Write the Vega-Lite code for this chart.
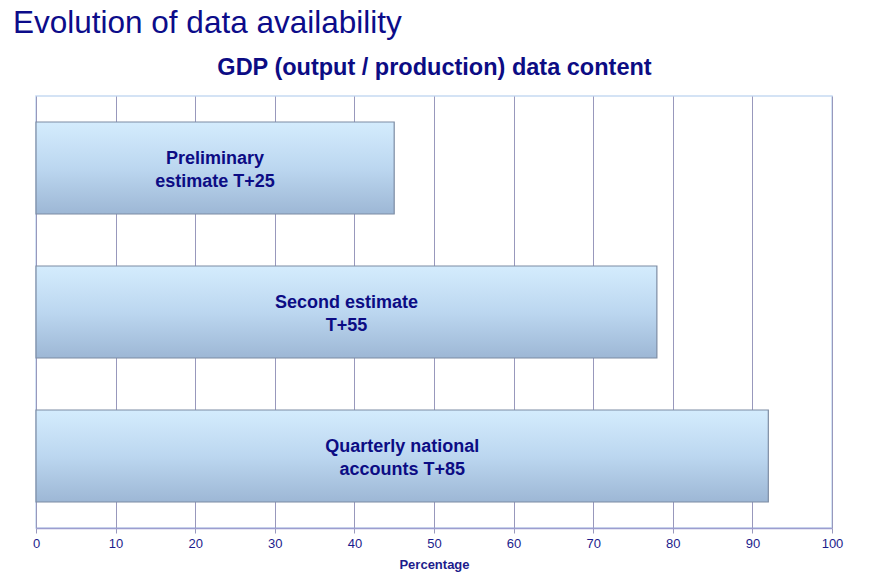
{
  "$schema": "https://vega.github.io/schema/vega-lite/v6.json",
  "width": 796,
  "height": 432,
  "autosize": "none",
  "padding": {"left": 36, "top": 96, "right": 55, "bottom": 46},
  "background": "white",
  "title": {
    "text": "Evolution of data availability",
    "anchor": "start",
    "frame": "group",
    "dx": -23,
    "offset": 16,
    "font": "Liberation Sans",
    "fontSize": 31.5,
    "fontWeight": "normal",
    "color": "#0c0c8a"
  },
  "data": {
    "values": [
      {"stage": "Preliminary estimate T+25", "label": "Preliminary\nestimate T+25", "value": 45},
      {"stage": "Second estimate T+55", "label": "Second estimate\nT+55", "value": 78},
      {"stage": "Quarterly national accounts T+85", "label": "Quarterly national\naccounts T+85", "value": 92}
    ]
  },
  "layer": [
    {
      "mark": {
        "type": "bar",
        "fill": {
          "gradient": "linear",
          "x1": 0, "y1": 0, "x2": 0, "y2": 1,
          "stops": [
            {"offset": 0, "color": "#d4ecfd"},
            {"offset": 0.5, "color": "#bcd7f0"},
            {"offset": 1, "color": "#9db7d5"}
          ]
        },
        "stroke": "#7d8ca3",
        "strokeWidth": 1.2
      },
      "encoding": {
        "y": {
          "field": "stage",
          "type": "nominal",
          "sort": null,
          "axis": null,
          "scale": {"paddingInner": 0.361, "paddingOuter": 0.1805}
        },
        "x": {
          "field": "value",
          "type": "quantitative",
          "scale": {"domain": [0, 100]},
          "axis": {
            "orient": "bottom",
            "title": "Percentage",
            "values": [0, 10, 20, 30, 40, 50, 60, 70, 80, 90, 100],
            "grid": true,
            "gridColor": "#9898bc",
            "gridOpacity": 1,
            "gridWidth": 1,
            "domainColor": "#9d9dcf",
            "domainWidth": 1.5,
            "tickColor": "#9898bc",
            "tickSize": 5,
            "labelPadding": 4,
            "labelFlush": false,
            "labelFont": "Liberation Sans",
            "labelFontSize": 13,
            "labelColor": "#1c1c8c",
            "titleFont": "Liberation Sans",
            "titleFontSize": 13,
            "titleFontWeight": "bold",
            "titleColor": "#1c1c8c",
            "titlePadding": 8
          }
        }
      }
    },
    {
      "transform": [{"calculate": "datum.value / 2", "as": "mid"}],
      "mark": {
        "type": "text",
        "lineBreak": "\n",
        "font": "Liberation Sans",
        "fontSize": 18,
        "fontWeight": "bold",
        "lineHeight": 23,
        "color": "#0c0c84",
        "align": "center",
        "baseline": "middle",
        "dy": -9
      },
      "encoding": {
        "y": {"field": "stage", "type": "nominal", "sort": null, "axis": null},
        "x": {
          "field": "mid",
          "type": "quantitative",
          "axis": {
            "orient": "top",
            "title": "GDP (output / production) data content",
            "labels": false,
            "ticks": false,
            "domain": false,
            "grid": false,
            "titleFont": "Liberation Sans",
            "titleFontSize": 23.5,
            "titleFontWeight": "bold",
            "titleColor": "#0c0c84",
            "titlePadding": 17
          }
        },
        "text": {"field": "label"}
      }
    }
  ],
  "resolve": {"axis": {"x": "independent"}},
  "config": {
    "view": {"stroke": "#c6daf2", "strokeWidth": 1.5}
  }
}
